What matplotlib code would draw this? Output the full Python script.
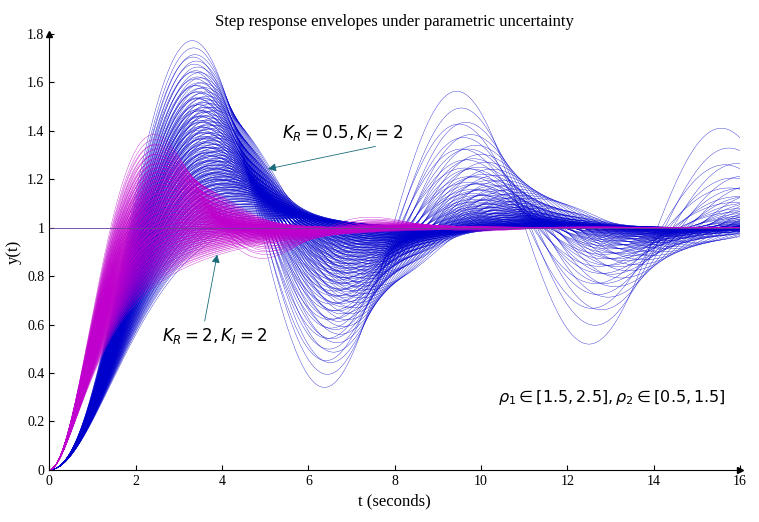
import numpy as np
import matplotlib
matplotlib.use("Agg")
import matplotlib.pyplot as plt

# uncertain plant parameters, plant P(s) = 1/((s+rho1)(s+rho2))
rho1_values = np.linspace(1.5, 2.5, 15)
rho2_values = np.linspace(0.5, 1.5, 15)
# PI gains for the two controller designs
gains_blue = (0.5, 2.0)
gains_magenta = (2.0, 2.0)

t_end = 16.0
dt = 0.01


def step_responses(kr, ki):
    r1, r2 = np.meshgrid(rho1_values, rho2_values)
    a = (r1 + r2).ravel()
    b = (r1 * r2).ravel() + kr
    c = np.full_like(a, ki)
    n = int(t_end / dt) + 1
    x = np.zeros((3, a.size))
    t = np.linspace(0, t_end, n)
    y = np.zeros((n, a.size))

    def f(x):
        return np.array([x[1], x[2], -c * x[0] - b * x[1] - a * x[2] + 1.0])

    for i in range(n):
        y[i] = ki * x[0] + kr * x[1]
        k1 = f(x)
        k2 = f(x + dt / 2 * k1)
        k3 = f(x + dt / 2 * k2)
        k4 = f(x + dt * k3)
        x = x + dt / 6 * (k1 + 2 * k2 + 2 * k3 + k4)
    return t, y


plt.rcParams['font.family'] = 'Liberation Serif'
fig, ax = plt.subplots(figsize=(7.59, 5.22), dpi=100)

t, yb = step_responses(*gains_blue)
ax.plot(t, yb, color='#0000cc', linewidth=0.25)
t, ym = step_responses(*gains_magenta)
ax.plot(t, ym, color='#c000cc', linewidth=0.25)
ax.axhline(1, color='#6a3d9a', linewidth=0.6)

ax.set_xlim(0, 16)
ax.set_ylim(0, 1.8)
ax.set_xticks(np.arange(0, 17, 2))
ax.set_yticks(np.arange(0, 1.81, 0.2))
ax.set_yticklabels(['0', '0.2', '0.4', '0.6', '0.8', '1', '1.2', '1.4', '1.6', '1.8'])
ax.spines['top'].set_visible(False)
ax.spines['right'].set_visible(False)
ax.plot(1, 0, '>k', transform=ax.transAxes, clip_on=False, markersize=5)
ax.plot(0, 1, '^k', transform=ax.transAxes, clip_on=False, markersize=5)
ax.tick_params(direction='in', labelsize=10)

ax.set_xlabel('t (seconds)', fontsize=12)
ax.set_ylabel('y(t)', fontsize=12)
ax.set_title('Step response envelopes under parametric uncertainty', fontsize=12, pad=6)

arrow = dict(arrowstyle='-|>', color='#1a6b7a', linewidth=0.6)
ax.annotate(r'$K_R = 0.5, K_I = 2$', xy=(5.0, 1.24), xytext=(5.4, 1.37),
            arrowprops=dict(arrow, relpos=(0.9, 0)), fontsize=12)
ax.annotate(r'$K_R = 2, K_I = 2$', xy=(3.9, 0.9), xytext=(2.6, 0.53),
            arrowprops=dict(arrow, relpos=(0.4, 1)), fontsize=12)
ax.text(10.4, 0.28, r'$\rho_1 \in [1.5,2.5], \rho_2 \in [0.5,1.5]$', fontsize=11.5)

fig.subplots_adjust(left=0.065, right=0.975, bottom=0.1, top=0.935)
fig.savefig('out.png')
